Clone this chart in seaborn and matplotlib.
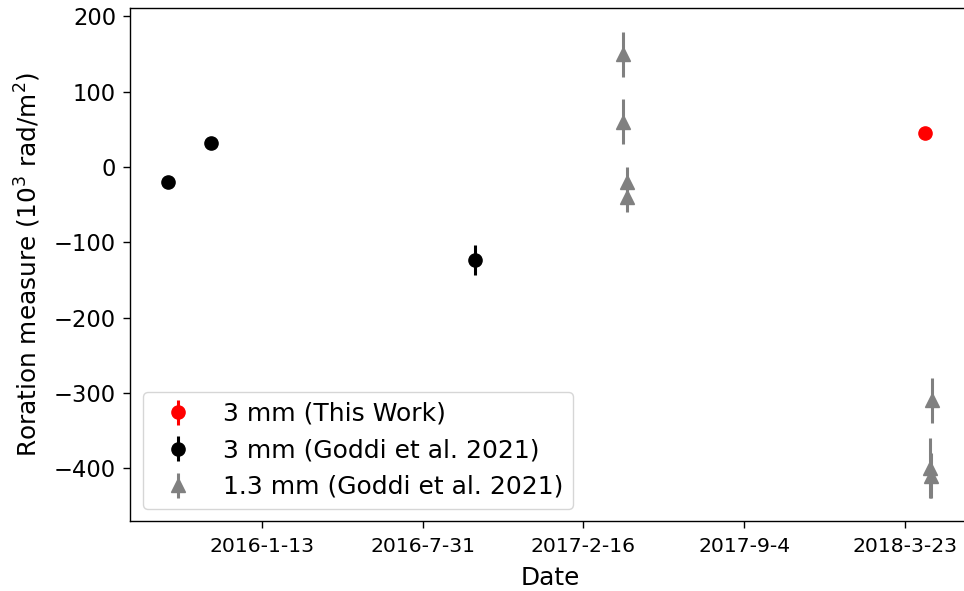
import matplotlib
matplotlib.use("Agg")
import matplotlib.pyplot as plt
import seaborn as sns
import pandas as pd

# Rotation measure of Sgr A* at 3 mm and 1.3 mm
this_work_dates = ["2018-04-16"]
this_work_rm = [45]
this_work_err = [3]

goddi_3mm_dates = ["2015-09-19", "2015-11-11", "2016-10-04"]
goddi_3mm_rm = [-20, 32, -123]
goddi_3mm_err = [5, 5, 20]

goddi_1mm_dates = ["2017-04-06", "2017-04-06", "2017-04-11", "2017-04-11",
                   "2018-04-25", "2018-04-23", "2018-04-24"]
goddi_1mm_rm = [150, 60, -20, -40, -310, -400, -410]
goddi_1mm_err = [30, 30, 20, 20, 30, 40, 30]

tick_dates = ["2016-01-13", "2016-07-31", "2017-02-16", "2017-09-04", "2018-03-23"]
tick_labels = ["2016-1-13", "2016-7-31", "2017-2-16", "2017-9-4", "2018-3-23"]

sns.set_theme(style="ticks", rc={
    "axes.edgecolor": "black",
    "axes.labelcolor": "black",
    "xtick.color": "black",
    "ytick.color": "black",
    "text.color": "black",
    "axes.linewidth": 1.0,
    "xtick.major.size": 5,
    "ytick.major.size": 5,
    "xtick.major.width": 1.0,
    "ytick.major.width": 1.0,
    "xtick.major.pad": 6,
    "ytick.major.pad": 5,
})
plt.rcParams["font.family"] = ["DejaVu Sans"]

fig = plt.figure(figsize=(9.64, 5.91), dpi=100)
ax = fig.add_axes([0.1349, 0.1176, 0.8714, 0.8685])

series = [
    (this_work_dates, this_work_rm, this_work_err, "red", "o", "3 mm (This Work)"),
    (goddi_3mm_dates, goddi_3mm_rm, goddi_3mm_err, "black", "o", "3 mm (Goddi et al. 2021)"),
    (goddi_1mm_dates, goddi_1mm_rm, goddi_1mm_err, "gray", "^", "1.3 mm (Goddi et al. 2021)"),
]

for dates, rm, err, color, marker, label in series:
    ax.errorbar(pd.to_datetime(dates), rm, yerr=err, fmt=marker, color=color,
                ecolor=color, elinewidth=2.2, markersize=9.5, capsize=0,
                label=label)

ax.set_xticks(pd.to_datetime(tick_dates))
ax.set_xticklabels(tick_labels, fontsize=14.7)
ax.tick_params(axis="y", labelsize=16.3)

ax.set_xlabel("Date", fontsize=17.8, labelpad=7.5)
ax.set_ylabel(r"Roration measure ($10^3$ rad/m$^2$)", fontsize=17.8, labelpad=8)

ax.legend(loc="lower left", fontsize=18, frameon=True)

fig.savefig("out.png", dpi=100)
